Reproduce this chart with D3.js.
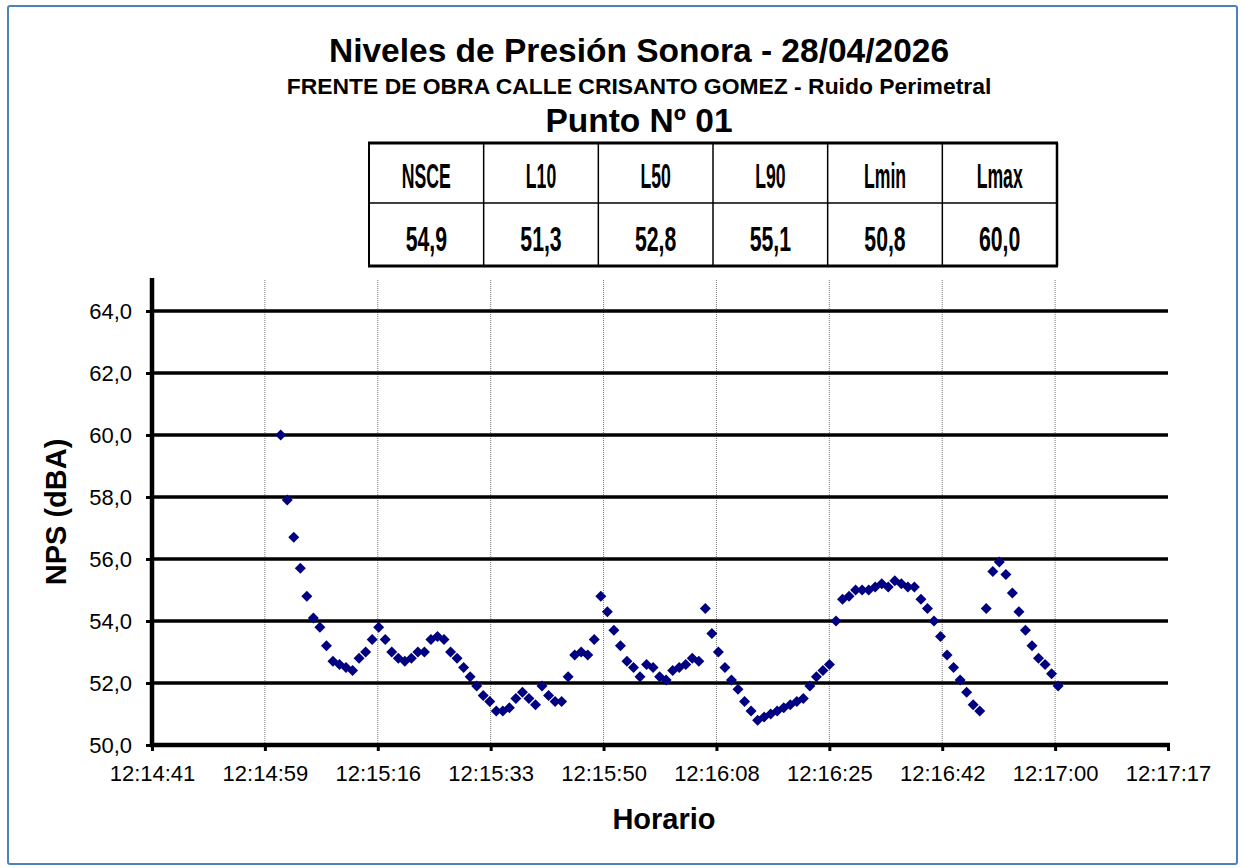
<!DOCTYPE html>
<html>
<head>
<meta charset="utf-8">
<script src="https://cdn.jsdelivr.net/npm/d3@7/dist/d3.min.js"></script>
<style>
  html, body { margin: 0; padding: 0; background: #fff; }
  svg { display: block; }
  text { font-family: "Liberation Sans", Arial, sans-serif; }
</style>
</head>
<body>
<svg id="chart" width="1242" height="868"></svg>
<script>
// ---------------- data ----------------
const titleText = "Niveles de Presión Sonora - 28/04/2026";
const subtitleText = "FRENTE DE OBRA CALLE CRISANTO GOMEZ - Ruido Perimetral";
const pointText = "Punto Nº 01";

const statHeaders = ["NSCE", "L10", "L50", "L90", "Lmin", "Lmax"];
const statValues = ["54,9", "51,3", "52,8", "55,1", "50,8", "60,0"];

const xTickLabels = ["12:14:41", "12:14:59", "12:15:16", "12:15:33", "12:15:50",
                     "12:16:08", "12:16:25", "12:16:42", "12:17:00", "12:17:17"];
const yTickValues = [50, 52, 54, 56, 58, 60, 62, 64];

// one reading per second, starting 12:15:01
const firstReading = "12:15:01";
const npsValues = [
  60.0, 57.9, 56.7, 55.7, 54.8, 54.1, 53.8, 53.2, 52.7, 52.6,
  52.5, 52.4, 52.8, 53.0, 53.4, 53.8, 53.4, 53.0, 52.8, 52.7,
  52.8, 53.0, 53.0, 53.4, 53.5, 53.4, 53.0, 52.8, 52.5, 52.2,
  51.9, 51.6, 51.4, 51.1, 51.1, 51.2, 51.5, 51.7, 51.5, 51.3,
  51.9, 51.6, 51.4, 51.4, 52.2, 52.9, 53.0, 52.9, 53.4, 54.8,
  54.3, 53.7, 53.2, 52.7, 52.5, 52.2, 52.6, 52.5, 52.2, 52.1,
  52.4, 52.5, 52.6, 52.8, 52.7, 54.4, 53.6, 53.0, 52.5, 52.1,
  51.8, 51.4, 51.1, 50.8, 50.9, 51.0, 51.1, 51.2, 51.3, 51.4,
  51.5, 51.9, 52.2, 52.4, 52.6, 54.0, 54.7, 54.8, 55.0, 55.0,
  55.0, 55.1, 55.2, 55.1, 55.3, 55.2, 55.1, 55.1, 54.7, 54.4,
  54.0, 53.5, 52.9, 52.5, 52.1, 51.7, 51.3, 51.1, 54.4, 55.6,
  55.9, 55.5, 54.9, 54.3, 53.7, 53.2, 52.8, 52.6, 52.3, 51.9
];

// axis range (Excel-style time axis, major unit 0.0002 day)
const xAxisStart = "12:14:41.3";
const xMajorUnit = 17.28;      // seconds
const xMajorCount = 9;
const yMin = 50, yMax = 65;

// ---------------- helpers ----------------
function toSec(s) {
  const p = s.split(":").map(Number);
  return p[0] * 3600 + p[1] * 60 + p[2];
}
const t0 = toSec(xAxisStart);
const tStart = toSec(firstReading);
const data = npsValues.map((v, i) => ({ t: tStart + i, v }));
const xTicks = d3.range(xMajorCount + 1).map(i => t0 + i * xMajorUnit);
const esFmt = d3.formatLocale({ decimal: ",", thousands: ".", grouping: [3], currency: ["", "€"] }).format(".1f");

// ---------------- drawing ----------------
const svg = d3.select("#chart");

svg.append("rect")
  .attr("x", 8).attr("y", 6).attr("width", 1229).attr("height", 858)
  .attr("rx", 2)
  .attr("fill", "#fff").attr("stroke", "#4F81BD").attr("stroke-width", 2);

const cx = 639;
svg.append("text").attr("x", cx).attr("y", 62).attr("text-anchor", "middle")
  .attr("font-size", 33.5).attr("font-weight", "bold").text(titleText);
svg.append("text").attr("x", cx).attr("y", 94).attr("text-anchor", "middle")
  .attr("font-size", 22.9).attr("font-weight", "bold").text(subtitleText);
svg.append("text").attr("x", cx).attr("y", 132).attr("text-anchor", "middle")
  .attr("font-size", 33.5).attr("font-weight", "bold").text(pointText);

// ---- stats table ----
const tbl = { x0: 369, x1: 1057, y0: 143, ym: 203, y1: 266 };
const colX = d3.scaleBand().domain(statHeaders).range([tbl.x0, tbl.x1]);
const gT = svg.append("g");
gT.append("rect").attr("x", tbl.x0).attr("y", tbl.y0)
  .attr("width", tbl.x1 - tbl.x0).attr("height", tbl.y1 - tbl.y0)
  .attr("fill", "#fff").attr("stroke", "none");
gT.append("line").attr("x1", tbl.x0).attr("x2", tbl.x1).attr("y1", tbl.ym).attr("y2", tbl.ym)
  .attr("stroke", "#000").attr("stroke-width", 1.5);
statHeaders.slice(1).forEach(h => {
  gT.append("line").attr("x1", colX(h)).attr("x2", colX(h)).attr("y1", tbl.y0).attr("y2", tbl.y1)
    .attr("stroke", "#000").attr("stroke-width", 1.5);
});
gT.append("line").attr("x1", tbl.x0 - 1).attr("x2", tbl.x1 + 1).attr("y1", tbl.y0).attr("y2", tbl.y0)
  .attr("stroke", "#000").attr("stroke-width", 3);
gT.append("line").attr("x1", tbl.x0 - 1).attr("x2", tbl.x1 + 1).attr("y1", tbl.y1).attr("y2", tbl.y1)
  .attr("stroke", "#000").attr("stroke-width", 3);
gT.append("line").attr("x1", tbl.x0).attr("x2", tbl.x0).attr("y1", tbl.y0).attr("y2", tbl.y1)
  .attr("stroke", "#000").attr("stroke-width", 2);
gT.append("line").attr("x1", tbl.x1).attr("x2", tbl.x1).attr("y1", tbl.y0).attr("y2", tbl.y1)
  .attr("stroke", "#000").attr("stroke-width", 2.5);

function cellText(str, xc, yb, sx) {
  gT.append("text")
    .attr("transform", `translate(${xc},${yb}) scale(${sx},1)`)
    .attr("text-anchor", "middle")
    .attr("font-size", 36).attr("font-weight", "bold")
    .text(str);
}
statHeaders.forEach(h => cellText(h, colX(h) + colX.bandwidth() / 2, 188, 0.49));
statValues.forEach((v, i) => cellText(v, colX(statHeaders[i]) + colX.bandwidth() / 2, 251, 0.59));

// ---- plot ----
const plot = { l: 152, r: 1168, t: 280, b: 745 };
const x = d3.scaleLinear().domain([t0, t0 + xMajorCount * xMajorUnit]).range([plot.l, plot.r]);
const y = d3.scaleLinear().domain([yMin, yMax]).range([plot.b, plot.t]);

svg.append("g").selectAll("line").data(xTicks.slice(1, -1)).join("line")
  .attr("x1", d => x(d)).attr("x2", d => x(d))
  .attr("y1", plot.t).attr("y2", plot.b)
  .attr("stroke", "#777").attr("stroke-width", 1).attr("stroke-dasharray", "1,1");

svg.append("g").selectAll("line").data(yTickValues.slice(1)).join("line")
  .attr("x1", plot.l).attr("x2", plot.r)
  .attr("y1", d => y(d)).attr("y2", d => y(d))
  .attr("stroke", "#000").attr("stroke-width", 3.5);

const yAxis = svg.append("g").attr("transform", `translate(${plot.l},0)`)
  .call(d3.axisLeft(y).tickValues(yTickValues).tickFormat(esFmt).tickSizeInner(6).tickSizeOuter(0).tickPadding(14));
yAxis.select(".domain").remove();
yAxis.selectAll(".tick line").attr("stroke", "#000").attr("stroke-width", 3);
yAxis.selectAll(".tick text").attr("font-size", 22).attr("fill", "#000")
  .style("font-family", "'Liberation Sans', Arial, sans-serif");
svg.append("line").attr("x1", plot.l).attr("x2", plot.l).attr("y1", plot.t - 2).attr("y2", plot.b + 2)
  .attr("stroke", "#000").attr("stroke-width", 4.5);

const xAxis = svg.append("g").attr("transform", `translate(0,${plot.b})`)
  .call(d3.axisBottom(x).tickValues(xTicks).tickFormat((d, i) => xTickLabels[i]).tickSizeInner(6).tickSizeOuter(0).tickPadding(14));
xAxis.select(".domain").remove();
xAxis.selectAll(".tick line").attr("stroke", "#000").attr("stroke-width", 3);
xAxis.selectAll(".tick text").attr("font-size", 22).attr("fill", "#000")
  .style("font-family", "'Liberation Sans', Arial, sans-serif");
svg.append("line").attr("x1", plot.l - 2).attr("x2", plot.r + 2).attr("y1", plot.b).attr("y2", plot.b)
  .attr("stroke", "#000").attr("stroke-width", 4.5);

svg.append("text").attr("transform", `translate(66,512) rotate(-90)`)
  .attr("text-anchor", "middle").attr("font-size", 29).attr("font-weight", "bold").text("NPS (dBA)");
svg.append("text").attr("x", 664).attr("y", 829)
  .attr("text-anchor", "middle").attr("font-size", 29).attr("font-weight", "bold").text("Horario");

svg.append("g").selectAll("path").data(data).join("path")
  .attr("transform", d => `translate(${x(d.t)},${y(d.v)})`)
  .attr("d", "M0,-5.5L5.5,0L0,5.5L-5.5,0Z")
  .attr("fill", "#000080");
</script>
</body>
</html>
